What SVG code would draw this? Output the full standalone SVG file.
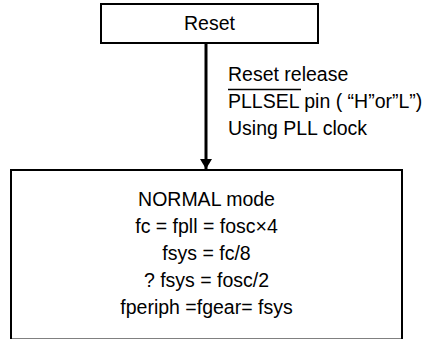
<svg xmlns="http://www.w3.org/2000/svg" width="427" height="339" viewBox="0 0 427 339">
<style>
text{font-family:"Liberation Sans",Arial,sans-serif;font-size:19.5px;fill:#000}
.c{text-anchor:middle}
.box{fill:#fff;stroke:#000;stroke-width:2}
.conn{stroke:#000;stroke-width:3;fill:none}
</style>
<defs>
<marker id="ah" viewBox="0 0 10 12" refX="10" refY="6" markerWidth="10" markerHeight="12" markerUnits="userSpaceOnUse" orient="auto">
<path d="M0,0 L10,6 L0,12 z" fill="#000"/>
</marker>
</defs>
<rect width="427" height="339" fill="#fff"/>
<g id="connectors">
<line class="conn" x1="206" y1="43" x2="206" y2="169" marker-end="url(#ah)"/>
<g id="label">
<text x="228" y="80.5">Reset release</text>
<line x1="228" y1="89.5" x2="301" y2="89.5" stroke="#000" stroke-width="1.5"/>
<text x="228" y="107.5">PLLSEL pin ( “H”or”L”)</text>
<text x="228" y="134.5">Using PLL clock</text>
</g>
</g>
<g id="reset">
<rect class="box" x="101" y="4" width="217" height="39"/>
<text class="c" x="209.5" y="29.5">Reset</text>
</g>
<g id="normal">
<rect class="box" x="11" y="170" width="391" height="169.5"/>
<text class="c" x="206.5" y="206">NORMAL mode</text>
<text class="c" x="206.5" y="233">fc = fpll = fosc×4</text>
<text class="c" x="206.5" y="260">fsys = fc/8</text>
<text class="c" x="206.5" y="287">? fsys = fosc/2</text>
<text class="c" x="206.5" y="314">fperiph =fgear= fsys</text>
</g>
</svg>
